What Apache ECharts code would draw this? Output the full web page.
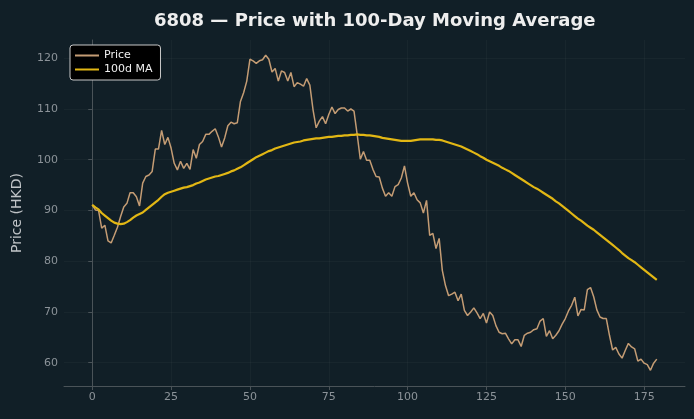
<!DOCTYPE html>
<html>
<head>
<meta charset="utf-8">
<script src="https://cdn.jsdelivr.net/npm/echarts@6/dist/echarts.min.js"></script>
<style>
  html, body { margin: 0; padding: 0; background: #111f27; }
  #chart { width: 694px; height: 419px; }
</style>
</head>
<body>
<div id="chart"></div>
<script>
// closing price by day index
const price = [
  91.1, 90.1, 90.0, 86.5, 87.1, 84.0, 83.6, 85.1, 86.7, 88.8,
  90.7, 91.4, 93.5, 93.5, 92.7, 90.9, 95.4, 96.7, 97.0, 97.7,
  102.1, 102.1, 105.8, 103.0, 104.4, 102.3, 99.3, 98.0, 99.7, 98.3,
  99.3, 98.1, 102.0, 100.3, 103.0, 103.6, 105.0, 105.0, 105.6, 106.1,
  104.5, 102.5, 104.3, 106.7, 107.4, 107.1, 107.3, 111.5, 113.2, 115.5,
  119.8, 119.5, 119.0, 119.5, 119.7, 120.6, 119.8, 117.3, 118.0, 115.5,
  117.5, 117.2, 115.5, 117.2, 114.4, 115.2, 114.9, 114.5, 116.0, 114.7,
  109.9, 106.3, 107.6, 108.5, 107.1, 108.9, 110.4, 109.1, 109.9, 110.2,
  110.2, 109.6, 110.0, 109.6, 105.0, 100.1, 101.6, 99.9, 99.9, 98.1,
  96.7, 96.6, 94.4, 92.8, 93.5, 92.8, 94.7, 95.1, 96.4, 98.8,
  95.4, 92.8, 93.5, 92.1, 91.5, 89.5, 92.0, 85.1, 85.5, 82.5,
  84.5, 78.2, 75.2, 73.2, 73.5, 73.9, 72.2, 73.5, 70.3, 69.3,
  70.0, 70.8, 69.8, 68.7, 69.7, 67.8, 70.0, 69.3, 67.3, 66.0,
  65.7, 65.8, 64.7, 63.7, 64.5, 64.5, 63.2, 65.4, 65.8, 66.0,
  66.5, 66.7, 68.2, 68.7, 65.2, 66.3, 64.7, 65.4, 66.3, 67.6,
  68.7, 70.2, 71.3, 72.9, 69.2, 70.5, 70.4, 74.4, 74.8, 73.0,
  70.4, 69.0, 68.7, 68.7, 65.4, 62.5, 63.0, 61.7, 60.9, 62.4,
  63.8, 63.1, 62.7, 60.3, 60.7, 59.9, 59.6, 58.5, 59.9, 60.7
];

// 100-day moving average as drawn in the picture
const ma100 = [
  91.1, 90.6, 90.2, 89.5, 89.0, 88.5, 88.0, 87.6, 87.4, 87.3,
  87.4, 87.7, 88.1, 88.6, 89.0, 89.3, 89.6, 90.1, 90.6, 91.1,
  91.6, 92.1, 92.7, 93.2, 93.5, 93.7, 93.9, 94.1, 94.3, 94.5,
  94.6, 94.8, 95.0, 95.3, 95.5, 95.8, 96.1, 96.3, 96.5, 96.7,
  96.8, 97.0, 97.2, 97.4, 97.7, 97.9, 98.2, 98.5, 98.9, 99.3,
  99.7, 100.1, 100.5, 100.8, 101.1, 101.4, 101.7, 101.9, 102.2, 102.4,
  102.6, 102.8, 103.0, 103.2, 103.4, 103.5, 103.6, 103.8, 103.9, 104.0,
  104.1, 104.2, 104.2, 104.3, 104.4, 104.5, 104.5, 104.6, 104.7, 104.7,
  104.8, 104.8, 104.9, 104.9, 105.0, 104.9, 104.9, 104.8, 104.8, 104.7,
  104.6, 104.5, 104.3, 104.2, 104.1, 104.0, 103.9, 103.8, 103.7, 103.7,
  103.7, 103.7, 103.8, 103.9, 104.0, 104.0, 104.0, 104.0, 104.0, 103.9,
  103.9, 103.8, 103.6, 103.4, 103.2, 103.0, 102.8, 102.6, 102.3, 102.0,
  101.7, 101.4, 101.1, 100.7, 100.4, 100.0, 99.7, 99.4, 99.1, 98.8,
  98.4, 98.1, 97.8, 97.4, 97.0, 96.6, 96.2, 95.8, 95.4, 95.0,
  94.6, 94.3, 93.9, 93.5, 93.1, 92.7, 92.3, 91.8, 91.4, 90.9,
  90.4, 89.9, 89.4, 88.9, 88.4, 88.0, 87.5, 87.0, 86.6, 86.2,
  85.7, 85.2, 84.7, 84.2, 83.7, 83.2, 82.7, 82.2, 81.6, 81.1,
  80.6, 80.2, 79.8, 79.3, 78.8, 78.3, 77.8, 77.3, 76.8, 76.3
];

const xTicks = [0, 25, 50, 75, 100, 125, 150, 175];
const yTicks = [60, 70, 80, 90, 100, 110, 120];

const pricePts = price.map((v, i) => [i, v]);
const maPts = ma100.map((v, i) => [i, v]);

const font = "DejaVu Sans";
const labelColor = "#8c9399";
const spine = "#4a5358";
const gridLine = "rgba(255,255,255,0.03)";

let myChart = echarts.init(document.getElementById("chart"));
myChart.setOption({
  animation: false,
  backgroundColor: "#111f27",
  textStyle: { fontFamily: font },
  // title is centred over the plot area, not the page
  title: {
    text: "6808 — Price with 100-Day Moving Average",
    left: 149,
    top: 7,
    textStyle: { color: "#eeeeee", fontSize: 18, fontWeight: "bold", fontFamily: font },
  },
  legend: {
    left: 70,
    top: 45,
    orient: "vertical",
    backgroundColor: "#000000",
    borderColor: "#c8c8c8",
    borderWidth: 1,
    borderRadius: 3,
    padding: [5, 8, 5, 5],
    itemGap: 3,
    itemWidth: 24,
    itemHeight: 2,
    textStyle: { color: "#f0f0f0", fontSize: 11, fontFamily: font },
    data: [
      { name: "Price", icon: "rect" },
      { name: "100d MA", icon: "rect" },
    ],
  },
  grid: { left: 64, right: 9, top: 40, bottom: 33 },
  xAxis: {
    type: "value",
    min: -8.95,
    max: 187.95,
    axisLine: { show: true, lineStyle: { color: spine } },
    axisTick: { show: true, length: 4, customValues: xTicks, lineStyle: { color: spine } },
    axisLabel: { customValues: xTicks, color: labelColor, fontSize: 11, margin: 6 },
    splitLine: { show: true, lineStyle: { color: gridLine } },
  },
  yAxis: {
    type: "value",
    min: 55.4,
    max: 123.6,
    name: "Price (HKD)",
    nameLocation: "middle",
    nameGap: 40,
    nameTextStyle: { color: "#c0c4c7", fontSize: 14, fontFamily: font },
    axisLine: { show: true, lineStyle: { color: spine } },
    axisTick: { show: true, length: 4, customValues: yTicks, lineStyle: { color: spine } },
    axisLabel: { customValues: yTicks, color: labelColor, fontSize: 11, margin: 6 },
    splitLine: { show: true, lineStyle: { color: gridLine } },
  },
  series: [
    {
      name: "Price",
      type: "line",
      data: pricePts,
      showSymbol: false,
      lineStyle: { color: "#c49c74", width: 1.5 },
      itemStyle: { color: "#c49c74" },
    },
    {
      name: "100d MA",
      type: "line",
      data: maPts,
      showSymbol: false,
      lineStyle: { color: "#e2b714", width: 2.2 },
      itemStyle: { color: "#e2b714" },
    },
  ],
});
</script>
</body>
</html>
